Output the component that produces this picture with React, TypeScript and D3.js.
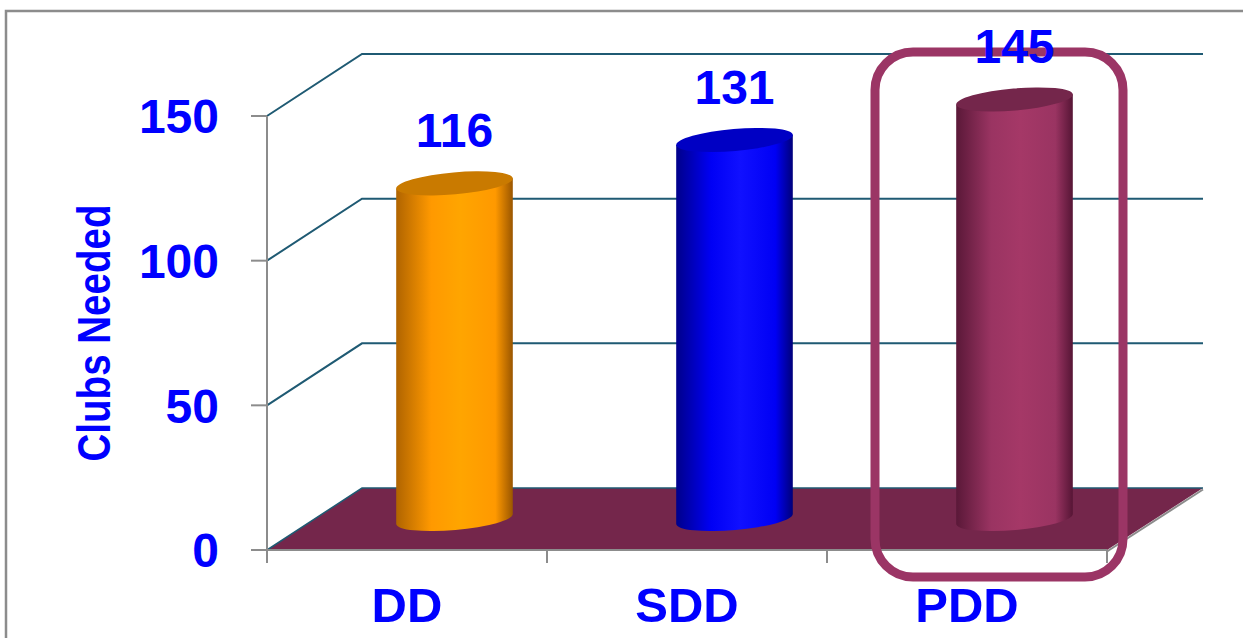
import React, { useEffect } from "react";
import * as d3 from "d3";

const categories = ["DD", "SDD", "PDD"];
const values = [116, 131, 145];
const yTicks = [0, 50, 100, 150];
const axisTitle = "Clubs Needed";
const highlighted = "PDD";

const W = 1243;
const H = 638;

const palettes = [
  { edgeL: "#b06400", mid: "#ff9900", hi: "#ffa500", edgeR: "#9a5600", top: "#c97a00" },
  { edgeL: "#00008a", mid: "#0000f5", hi: "#1010ff", edgeR: "#00007a", top: "#0000c4" },
  { edgeL: "#5a1838", mid: "#9a3462", hi: "#a53867", edgeR: "#561535", top: "#74264b" },
];

export default function App() {
  useEffect(() => {
    document.body.style.margin = "0";
  }, []);

  const x0 = 267;
  const x1 = 1107;
  const yBase = 550;
  const depthX = 95;
  const depthY = -62;
  const backRight = x1 + depthX + 1;

  const y = d3.scaleLinear().domain([0, 150]).range([yBase, 116]);
  const x = d3.scaleBand<string>().domain(categories).range([x0, x1]).padding(0);
  const bw = x.bandwidth();
  const rx = bw * 0.209;
  const ry = 11;
  const tilt = -5;
  const t = (tilt * Math.PI) / 180;
  const ex = rx * Math.cos(t);
  const ey = rx * Math.sin(t);

  const grid = "#1f5a73";
  const gray = "#8c8c8c";
  const floorColor = "#74264b";

  const floorPath = d3.path();
  floorPath.moveTo(x0, yBase);
  floorPath.lineTo(x0 + depthX, yBase + depthY);
  floorPath.lineTo(backRight, yBase + depthY);
  floorPath.lineTo(x1, yBase);
  floorPath.closePath();

  const hx = (x(highlighted) as number) + 48;

  return (
    <svg width={W} height={H} style={{ position: "absolute", left: 0, top: 0, display: "block", background: "#fff" }}>
      <defs>
        {palettes.map((p, i) => (
          <linearGradient key={i} id={`cyl${i}`} x1="0" x2="1" y1="0" y2="0">
            <stop offset="0" stopColor={p.edgeL} />
            <stop offset="0.3" stopColor={p.mid} />
            <stop offset="0.55" stopColor={p.hi} />
            <stop offset="0.85" stopColor={p.mid} />
            <stop offset="1" stopColor={p.edgeR} />
          </linearGradient>
        ))}
      </defs>
      <path d={`M6,${H} L6,11 L${W},11`} fill="none" stroke={gray} strokeWidth={2.5} />

      {/* back wall gridlines */}
      {yTicks.filter((v) => v > 0).map((v) => (
        <path
          key={v}
          d={`M${x0},${y(v)} L${x0 + depthX},${y(v) + depthY} L${backRight},${y(v) + depthY}`}
          fill="none"
          stroke={grid}
          strokeWidth={2}
        />
      ))}

      {/* floor */}
      <path d={`M${x1},${yBase + 1.5} L${backRight},${yBase + depthY + 1.5}`} stroke={gray} strokeWidth={2} />
      <path d={floorPath.toString()} fill={floorColor} />
      <path
        d={`M${x0},${y(0)} L${x0 + depthX},${y(0) + depthY} L${backRight},${y(0) + depthY}`}
        fill="none"
        stroke={grid}
        strokeWidth={1.5}
      />

      {/* axes */}
      <line x1={x0} x2={x0} y1={y(150)} y2={yBase + 13} stroke={gray} strokeWidth={2} />
      {yTicks.map((v) => (
        <line key={v} x1={x0 - 16} x2={x0} y1={y(v)} y2={y(v)} stroke={gray} strokeWidth={2} />
      ))}
      <line x1={x0} x2={x1} y1={yBase} y2={yBase} stroke={gray} strokeWidth={2} />
      {[...categories.map((c) => x(c) as number), x1].map((px, i) => (
        <line key={i} x1={px} x2={px} y1={yBase} y2={yBase + 13} stroke={gray} strokeWidth={2} />
      ))}

      {yTicks.map((v) => (
        <text
          key={v}
          x={219}
          y={y(v)}
          dy="0.36em"
          textAnchor="end"
          fontFamily="Liberation Sans, Arial, sans-serif"
          fontWeight="bold"
          fontSize={48}
          fill="#0000ff"
        >
          {v}
        </text>
      ))}

      <text
        transform={`translate(110,333) rotate(-90)`}
        textAnchor="middle"
        fontFamily="Liberation Sans, Arial, sans-serif"
        fontWeight="bold"
        fontSize={46}
        textLength={257}
        lengthAdjust="spacingAndGlyphs"
        fill="#0000ff"
      >
        {axisTitle}
      </text>

      {categories.map((c) => (
        <text
          key={c}
          x={(x(c) as number) + bw / 2}
          y={622}
          textAnchor="middle"
          fontFamily="Liberation Sans, Arial, sans-serif"
          fontWeight="bold"
          fontSize={49}
          fill="#0000ff"
        >
          {c}
        </text>
      ))}

      {/* cylinders */}
      {categories.map((c, i) => {
        const cx = (x(c) as number) + bw / 2 + depthX / 2;
        const by = yBase + depthY / 2;
        const ty = by - (yBase - y(values[i]));
        const body = `M${cx - ex},${ty - ey} L${cx - ex},${by - ey} A${rx},${ry} ${tilt} 0 0 ${cx + ex},${by + ey} L${cx + ex},${ty + ey} Z`;
        return (
          <g key={c}>
            <path d={body} fill={`url(#cyl${i})`} />
            <ellipse cx={cx} cy={ty} rx={rx} ry={ry} transform={`rotate(${tilt},${cx},${ty})`} fill={palettes[i].top} />
          </g>
        );
      })}

      {/* highlight */}
      <rect x={hx} y={52} width={248} height={525} rx={38} ry={38} fill="none" stroke="#9b3565" strokeWidth={9} />

      {categories.map((c, i) => {
        const cx = (x(c) as number) + bw / 2 + depthX / 2;
        const by = yBase + depthY / 2;
        const ty = by - (yBase - y(values[i]));
        return (
          <text
            key={c}
            x={cx}
            y={ty - 36}
            textAnchor="middle"
            fontFamily="Liberation Sans, Arial, sans-serif"
            fontWeight="bold"
            fontSize={48}
            fill="#0000ff"
          >
            {values[i]}
          </text>
        );
      })}
    </svg>
  );
}
